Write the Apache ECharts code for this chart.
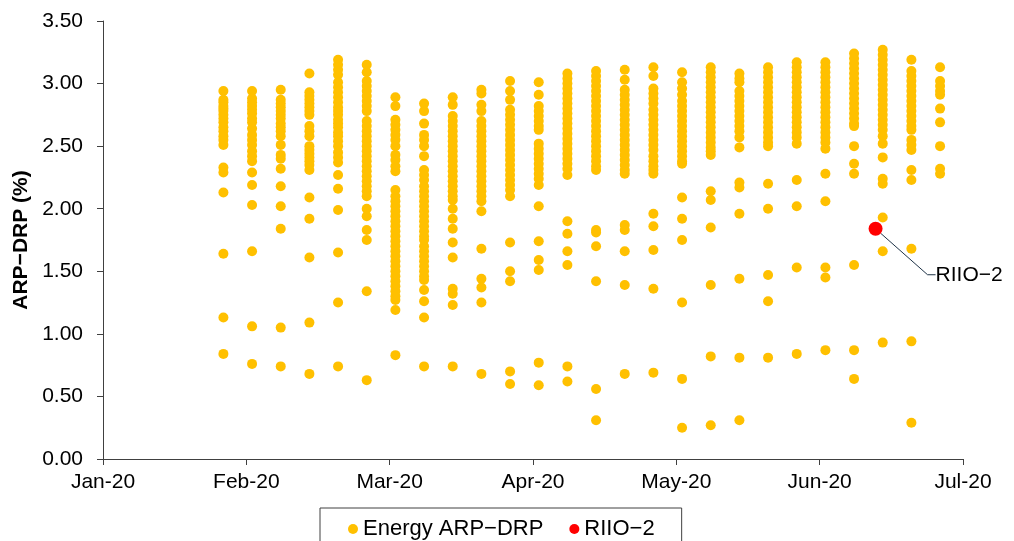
<!DOCTYPE html>
<html><head><meta charset="utf-8">
<script src="https://cdn.jsdelivr.net/npm/echarts@6/dist/echarts.min.js"></script>
<style>html,body{margin:0;padding:0;background:#fff}#c{width:1014px;height:541px}</style>
</head><body><div id="c"></div>
<script>
// x-axis tick labels (one per month tick, equally spaced)
const monthLabels = ['Jan-20','Feb-20','Mar-20','Apr-20','May-20','Jun-20','Jul-20'];
// x positions of observation columns, in months after 1 Jan 2020
const colX = [0.84,1.04,1.24,1.44,1.64,1.84,2.04,2.24,2.44,2.64,2.84,3.04,3.24,3.44,3.64,3.84,4.04,4.24,4.44,4.64,4.84,5.04,5.24,5.44,5.64,5.84];
// ARP-DRP values (%) for each column
const colValues = [
 [2.94,2.87,2.85,2.82,2.80,2.78,2.75,2.72,2.69,2.65,2.62,2.58,2.55,2.51,2.33,2.29,2.13,1.64,1.13,0.84],
 [2.94,2.88,2.85,2.82,2.79,2.76,2.72,2.69,2.64,2.59,2.55,2.51,2.46,2.42,2.38,2.29,2.19,2.03,1.66,1.06,0.76],
 [2.95,2.87,2.84,2.81,2.78,2.75,2.72,2.68,2.65,2.62,2.58,2.51,2.43,2.40,2.32,2.18,2.02,1.84,1.05,0.74],
 [3.08,2.93,2.90,2.87,2.84,2.81,2.78,2.75,2.66,2.62,2.58,2.50,2.47,2.44,2.41,2.38,2.35,2.31,2.09,1.92,1.61,1.09,0.68],
 [3.19,3.15,3.11,3.07,3.01,2.97,2.93,2.89,2.85,2.81,2.78,2.75,2.71,2.68,2.65,2.61,2.58,2.54,2.50,2.45,2.41,2.37,2.27,2.16,1.99,1.65,1.25,0.74],
 [3.15,3.09,3.02,2.98,2.94,2.90,2.86,2.82,2.78,2.70,2.66,2.62,2.58,2.54,2.50,2.46,2.42,2.38,2.34,2.30,2.26,2.22,2.18,2.14,2.10,2.00,1.94,1.83,1.75,1.34,0.63],
 [2.89,2.82,2.71,2.67,2.63,2.59,2.55,2.50,2.43,2.39,2.34,2.30,2.15,2.10,2.06,2.02,1.98,1.94,1.90,1.86,1.82,1.78,1.74,1.70,1.66,1.62,1.58,1.54,1.50,1.46,1.42,1.38,1.34,1.30,1.27,1.19,0.83],
 [2.84,2.78,2.68,2.59,2.55,2.50,2.42,2.31,2.27,2.23,2.18,2.14,2.10,2.06,2.02,1.98,1.94,1.90,1.86,1.82,1.78,1.75,1.70,1.66,1.62,1.58,1.54,1.50,1.46,1.43,1.35,1.26,1.13,0.74],
 [2.89,2.83,2.74,2.70,2.66,2.62,2.58,2.54,2.50,2.46,2.42,2.38,2.34,2.30,2.26,2.22,2.18,2.14,2.10,2.07,2.00,1.92,1.84,1.73,1.61,1.36,1.32,1.23,0.74],
 [2.95,2.92,2.83,2.78,2.70,2.66,2.62,2.58,2.54,2.50,2.46,2.42,2.38,2.34,2.30,2.26,2.22,2.18,2.14,2.10,2.06,1.98,1.68,1.44,1.37,1.25,0.68],
 [3.02,2.94,2.87,2.79,2.75,2.71,2.67,2.63,2.59,2.55,2.51,2.47,2.43,2.39,2.35,2.31,2.27,2.23,2.19,2.15,2.10,1.73,1.50,1.42,0.70,0.60],
 [3.01,2.91,2.82,2.78,2.74,2.70,2.66,2.63,2.52,2.48,2.44,2.40,2.36,2.32,2.28,2.24,2.19,2.02,1.74,1.59,1.51,0.77,0.59],
 [3.08,3.04,3.00,2.96,2.92,2.88,2.84,2.80,2.76,2.72,2.68,2.64,2.60,2.56,2.52,2.48,2.44,2.40,2.36,2.32,2.27,1.90,1.80,1.66,1.55,0.74,0.62],
 [3.10,3.06,3.02,2.98,2.94,2.90,2.86,2.82,2.78,2.74,2.70,2.66,2.62,2.58,2.54,2.50,2.46,2.42,2.38,2.34,2.31,1.83,1.81,1.70,1.42,0.56,0.31],
 [3.11,3.03,2.95,2.91,2.87,2.83,2.79,2.75,2.71,2.67,2.63,2.59,2.55,2.51,2.47,2.43,2.39,2.35,2.31,2.28,1.87,1.83,1.66,1.39,0.68],
 [3.13,3.06,2.96,2.92,2.88,2.84,2.79,2.75,2.71,2.67,2.63,2.59,2.55,2.51,2.47,2.42,2.38,2.34,2.31,2.28,1.96,1.86,1.67,1.36,0.69],
 [3.09,3.01,2.96,2.91,2.86,2.82,2.78,2.74,2.70,2.66,2.62,2.58,2.54,2.50,2.46,2.42,2.38,2.36,2.09,1.92,1.75,1.25,0.64,0.25],
 [3.13,3.09,3.05,3.01,2.97,2.93,2.89,2.85,2.81,2.77,2.73,2.69,2.65,2.61,2.57,2.53,2.49,2.46,2.43,2.14,2.07,1.85,1.39,0.82,0.27],
 [3.08,3.04,3.01,2.94,2.90,2.86,2.82,2.78,2.74,2.70,2.66,2.62,2.57,2.49,2.21,2.17,1.96,1.44,0.81,0.31],
 [3.13,3.09,3.05,3.01,2.97,2.93,2.89,2.85,2.81,2.77,2.73,2.69,2.65,2.61,2.57,2.53,2.50,2.20,2.00,1.47,1.26,0.81],
 [3.17,3.13,3.09,3.05,3.01,2.97,2.93,2.89,2.85,2.81,2.77,2.73,2.69,2.65,2.61,2.57,2.52,2.23,2.02,1.53,0.84],
 [3.17,3.13,3.09,3.05,3.01,2.97,2.93,2.89,2.85,2.81,2.77,2.73,2.69,2.65,2.61,2.57,2.53,2.48,2.28,2.06,1.53,1.45,0.87],
 [3.24,3.20,3.16,3.12,3.08,3.04,3.00,2.96,2.92,2.88,2.84,2.80,2.76,2.72,2.68,2.66,2.50,2.36,2.28,1.55,0.87,0.64],
 [3.27,3.23,3.19,3.15,3.11,3.07,3.03,2.99,2.95,2.91,2.87,2.83,2.79,2.75,2.71,2.67,2.63,2.58,2.52,2.41,2.24,2.20,1.93,1.66,0.93],
 [3.19,3.10,3.06,3.02,2.98,2.94,2.90,2.86,2.82,2.78,2.74,2.70,2.66,2.63,2.55,2.51,2.47,2.31,2.23,1.68,0.94,0.29],
 [3.13,3.02,2.98,2.94,2.91,2.80,2.69,2.50,2.32,2.28]
];
// RIIO-2 point
const riioX = [5.39];
const riioY = [1.84];
const seriesNames = ['Energy ARP\u2212DRP', 'RIIO\u22122'];

const energyData = [];
colX.forEach((x, i) => colValues[i].forEach(v => energyData.push([x, v])));
const riioData = riioX.map((x, i) => [x, riioY[i]]);

const font = 'Liberation Sans, Arial, sans-serif';
const fs = 21;
const chart = echarts.init(document.getElementById('c'), null, {renderer: 'canvas'});
chart.setOption({
  animation: false,
  textStyle: {fontFamily: font},
  grid: {left: 103, right: 51, top: 21, bottom: 82, containLabel: false},
  xAxis: {
    type: 'value', min: 0, max: 6, interval: 1,
    axisLine: {show: true, lineStyle: {color: '#404040', width: 1}},
    axisTick: {show: true, length: 6, lineStyle: {color: '#404040'}},
    axisLabel: {color: '#000', fontSize: fs, fontFamily: font, margin: 13,
      formatter: v => monthLabels[Math.round(v)] || ''},
    splitLine: {show: false}
  },
  yAxis: {
    type: 'value', min: 0, max: 3.5, interval: 0.5,
    name: 'ARP\u2212DRP (%)', nameLocation: 'middle', nameGap: 63,
    nameTextStyle: {color: '#000', fontSize: fs, fontWeight: 'bold', fontFamily: font},
    axisLine: {show: true, lineStyle: {color: '#404040', width: 1}},
    axisTick: {show: true, length: 6, lineStyle: {color: '#404040'}},
    axisLabel: {color: '#000', fontSize: fs, fontFamily: font, margin: 20,
      formatter: v => v.toFixed(2)},
    splitLine: {show: false}
  },
  legend: {
    data: seriesNames, top: 508, left: 320,
    borderColor: '#404040', borderWidth: 1,
    padding: [10, 27, 20, 28], itemGap: 26, itemWidth: 10, itemHeight: 10,
    textStyle: {color: '#000', fontSize: 22, fontFamily: font}
  },
  series: [
    {name: seriesNames[0], type: 'scatter', data: energyData, symbol: 'circle', symbolSize: 10,
     itemStyle: {color: '#FFC000', opacity: 1}},
    {name: seriesNames[1], type: 'scatter', data: riioData, symbol: 'circle', symbolSize: 14,
     itemStyle: {color: '#FF0000', opacity: 1}, z: 3,
     label: {show: true, formatter: 'RIIO\u22122', position: 'right', color: '#000', fontSize: fs, fontFamily: font},
     labelLayout: {dx: 48, dy: 46},
     labelLine: {show: true, length2: 8, lineStyle: {color: '#1F3347', width: 1}}}
  ]
});
</script></body></html>
